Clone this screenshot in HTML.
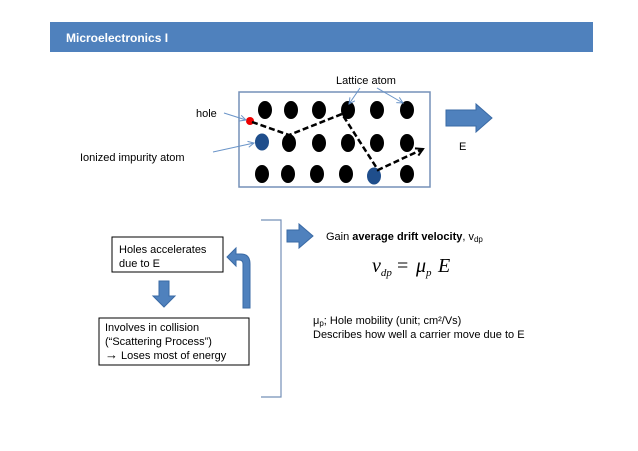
<!DOCTYPE html>
<html><head><meta charset="utf-8"><style>
html,body{margin:0;padding:0;background:#fff;}
svg{display:block;font-family:"Liberation Sans",sans-serif;}
</style></head><body>
<svg width="638" height="451" viewBox="0 0 638 451" xmlns="http://www.w3.org/2000/svg">
<defs>
<marker id="ah" markerWidth="10" markerHeight="10" refX="8" refY="5" orient="auto" markerUnits="userSpaceOnUse"><path d="M1,1 L8,5 L1,9" fill="none" stroke="#000" stroke-width="2"/></marker>
<marker id="bh" markerWidth="8" markerHeight="8" refX="7" refY="4" orient="auto" markerUnits="userSpaceOnUse"><path d="M1,1 L7,4 L1,7" fill="none" stroke="#6a94c8" stroke-width="1"/></marker>
</defs>
<rect x="50" y="22" width="543" height="30" fill="#4f81bd"/>
<text x="66" y="42" font-size="12" font-weight="bold" fill="#fff">Microelectronics I</text>

<rect x="239" y="92" width="191" height="95" fill="#fff" stroke="#7590b8" stroke-width="1.5"/>
<g fill="#000">
<ellipse cx="265" cy="110" rx="7" ry="9"/><ellipse cx="291" cy="110" rx="7" ry="9"/><ellipse cx="319" cy="110" rx="7" ry="9"/><ellipse cx="348" cy="110" rx="7" ry="9"/><ellipse cx="377" cy="110" rx="7" ry="9"/><ellipse cx="407" cy="110" rx="7" ry="9"/>
<ellipse cx="289" cy="143" rx="7" ry="9"/><ellipse cx="319" cy="143" rx="7" ry="9"/><ellipse cx="348" cy="143" rx="7" ry="9"/><ellipse cx="377" cy="143" rx="7" ry="9"/><ellipse cx="407" cy="143" rx="7" ry="9"/>
<ellipse cx="262" cy="174" rx="7" ry="9"/><ellipse cx="288" cy="174" rx="7" ry="9"/><ellipse cx="317" cy="174" rx="7" ry="9"/><ellipse cx="346" cy="174" rx="7" ry="9"/><ellipse cx="407" cy="174" rx="7" ry="9"/>
</g>
<ellipse cx="262" cy="142" rx="7" ry="8.5" fill="#1f4e8c"/>
<ellipse cx="374" cy="176" rx="7" ry="8.5" fill="#1f4e8c"/>
<circle cx="250" cy="121" r="4" fill="#e00"/>
<polyline points="252,122 289,135 342,114 378,170 423,149" fill="none" stroke="#000" stroke-width="2.5" stroke-dasharray="6,3" marker-end="url(#ah)"/>

<text x="336" y="84" font-size="11">Lattice atom</text>
<line x1="360" y1="88" x2="349" y2="104" stroke="#6a94c8" marker-end="url(#bh)"/>
<line x1="377" y1="88" x2="403" y2="103" stroke="#6a94c8" marker-end="url(#bh)"/>
<text x="196" y="117" font-size="11">hole</text>
<line x1="224" y1="113" x2="246" y2="120" stroke="#6a94c8" marker-end="url(#bh)"/>
<text x="80" y="161" font-size="11">Ionized impurity atom</text>
<line x1="213" y1="152" x2="254" y2="143" stroke="#6a94c8" marker-end="url(#bh)"/>

<path d="M446,110 H476 V104 L492,118 L476,132 V126 H446 Z" fill="#4f81bd" stroke="#3a6aa5"/>
<text x="459" y="150" font-size="11">E</text>

<path d="M261,220 H281 V397 H261" fill="none" stroke="#7590b8" stroke-width="1.2"/>
<path d="M287,230 H299 V224 L313,236 L299,248 V242 H287 Z" fill="#4f81bd" stroke="#3a6aa5"/>

<rect x="112" y="237" width="111" height="35" fill="#fff" stroke="#000"/>
<text x="119" y="253" font-size="11">Holes accelerates</text>
<text x="119" y="267" font-size="11">due to E</text>
<path d="M159,281 H169 V296 H175 L164,307 L153,296 H159 Z" fill="#4f81bd" stroke="#3a6aa5"/>
<rect x="99" y="318" width="150" height="47" fill="#fff" stroke="#000"/>
<text x="105" y="331" font-size="11">Involves in collision</text>
<text x="105" y="345" font-size="11">(“Scattering Process”)</text>
<text x="105" y="359" font-size="11"><tspan font-size="13">→</tspan> Loses most of energy</text>
<path d="M243,308 V264 Q243,260 239,260 H236 V266 L227,257 L236,248 V254 H241 Q250,254 250,264 V308 Z" fill="#4f81bd" stroke="#3a6aa5"/>

<text x="326" y="240" font-size="11">Gain <tspan font-weight="bold">average drift velocity</tspan>, v<tspan font-size="8" dy="2">dp</tspan></text>
<text x="372" y="272" font-family="Liberation Serif,serif" font-size="20"><tspan font-style="italic">v</tspan><tspan font-style="italic" font-size="11" dy="4">dp</tspan><tspan dy="-4" x="397">=</tspan><tspan font-style="italic" x="416">μ</tspan><tspan font-style="italic" font-size="11" dy="4">p</tspan><tspan font-style="italic" dy="-4" x="438">E</tspan></text>
<text x="313" y="324" font-size="11">μ<tspan font-size="8" dy="2">p</tspan><tspan dy="-2">; Hole mobility (unit; cm²/Vs)</tspan></text>
<text x="313" y="338" font-size="11">Describes how well a carrier move due to E</text>
</svg>
</body></html>
